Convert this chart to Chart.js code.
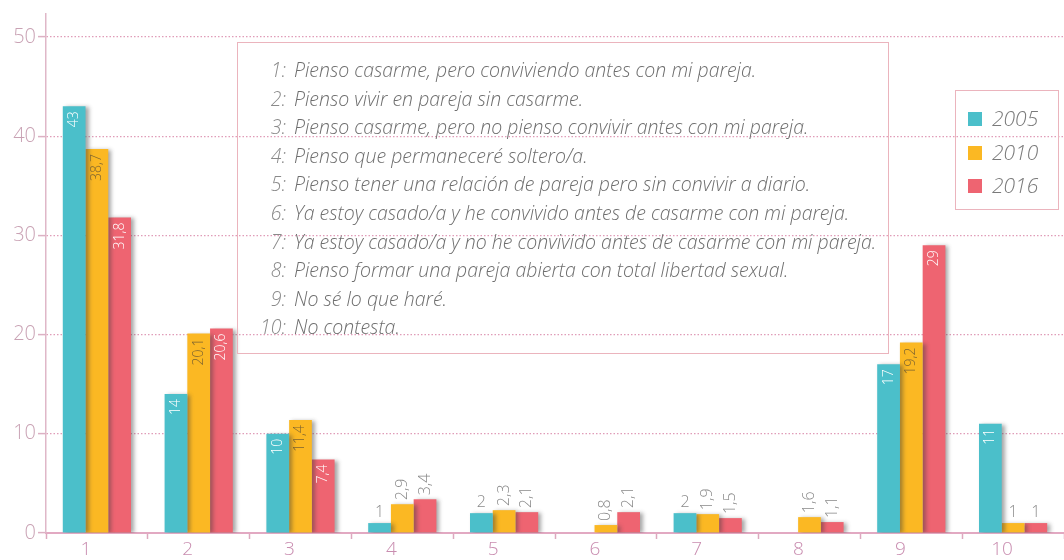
<!DOCTYPE html>
<html>
<head>
<meta charset="utf-8">
<script src="https://cdn.jsdelivr.net/npm/chart.js@4"></script>
<style>
  html, body { margin: 0; padding: 0; background: #ffffff; }
  #wrap { position: relative; width: 1064px; height: 560px; overflow: hidden; }
  #c { position: absolute; left: 0; top: 0; }
  .box { position: absolute; border: 1.5px solid #ebb4bd; box-sizing: border-box; }
  #desc { left: 237px; top: 42px; width: 652px; height: 312px; padding-top: 13px; }
  .line { position: relative; height: 28.6px; line-height: 28.6px; font-family: "Open Sans", sans-serif; font-style: italic; font-weight: 300; font-size: 19.5px; color: #6e6e6e; white-space: nowrap; }
  .num { position: absolute; right: 602px; color: #8a8a8a; }
  .txt { position: absolute; left: 56px; }
  #leg { left: 955px; top: 90px; width: 104px; height: 120px; }
  .li { position: absolute; left: 12px; height: 26px; line-height: 26px; font-family: "Open Sans", sans-serif; font-style: italic; font-weight: 300; font-size: 21px; color: #7a7a7a; }
  .sw { display: inline-block; width: 14px; height: 14px; vertical-align: 0px; margin-right: 10px; }
</style>
</head>
<body>
<div id="wrap">
  <canvas id="c" width="1064" height="560"></canvas>
  <div id="desc" class="box"></div>
  <div id="leg" class="box"></div>
</div>
<script>
const categories = ["1", "2", "3", "4", "5", "6", "7", "8", "9", "10"];
const seriesNames = ["2005", "2010", "2016"];
const values2005 = [43, 14, 10, 1, 2, null, 2, null, 17, 11];
const values2010 = [38.7, 20.1, 11.4, 2.9, 2.3, 0.8, 1.9, 1.6, 19.2, 1];
const values2016 = [31.8, 20.6, 7.4, 3.4, 2.1, 2.1, 1.5, 1.1, 29, 1];
const yTicks = [0, 10, 20, 30, 40, 50];
const descriptions = [
  "Pienso casarme, pero conviviendo antes con mi pareja.",
  "Pienso vivir en pareja sin casarme.",
  "Pienso casarme, pero no pienso convivir antes con mi pareja.",
  "Pienso que permaneceré soltero/a.",
  "Pienso tener una relación de pareja pero sin convivir a diario.",
  "Ya estoy casado/a y he convivido antes de casarme con mi pareja.",
  "Ya estoy casado/a y no he convivido antes de casarme con mi pareja.",
  "Pienso formar una pareja abierta con total libertad sexual.",
  "No sé lo que haré.",
  "No contesta."
];

const colors = ["#4bbfca", "#fbb823", "#ee6471"];
const insideLabelColors = ["#ffffff", "#7d6430", "#ffffff"];

// description box
const desc = document.getElementById('desc');
descriptions.forEach((d, i) => {
  const row = document.createElement('div');
  row.className = 'line';
  row.innerHTML = '<span class="num">' + categories[i] + ':</span><span class="txt"></span>';
  row.querySelector('.txt').textContent = d;
  desc.appendChild(row);
});
// legend box
const leg = document.getElementById('leg');
seriesNames.forEach((n, i) => {
  const it = document.createElement('div');
  it.className = 'li';
  it.style.top = (14 + i * 33.5) + 'px';
  it.innerHTML = '<span class="sw" style="background:' + colors[i] + '"></span>' + n;
  leg.appendChild(it);
});

const fmt = v => String(v).replace('.', ',');

const shadowPlugin = {
  id: 'barShadow',
  beforeDatasetsDraw(chart) {
    const ctx = chart.ctx;
    ctx.save();
    ctx.shadowColor = 'rgba(60,60,60,0.45)';
    ctx.shadowBlur = 4;
    ctx.shadowOffsetX = 3;
    ctx.shadowOffsetY = 1;
  },
  afterDatasetsDraw(chart) {
    chart.ctx.restore();
  }
};

const labelPlugin = {
  id: 'barLabels',
  afterDatasetsDraw(chart) {
    const ctx = chart.ctx;
    chart.data.datasets.forEach((ds, di) => {
      const meta = chart.getDatasetMeta(di);
      meta.data.forEach((bar, i) => {
        const v = ds.data[i];
        if (v === null || v === undefined) return;
        const txt = fmt(v);
        const x = bar.x, y = bar.y;
        ctx.save();
        ctx.shadowColor = 'transparent';
        if (v >= 5) {
          ctx.font = '300 14px "Open Sans", sans-serif';
          ctx.fillStyle = insideLabelColors[di];
          ctx.translate(x, y + 5);
          ctx.rotate(-Math.PI / 2);
          ctx.textAlign = 'right';
          ctx.textBaseline = 'middle';
          ctx.fillText(txt, 0, 0);
        } else if (Number.isInteger(v)) {
          ctx.font = '300 16px "Open Sans", sans-serif';
          ctx.fillStyle = '#8a8a8a';
          ctx.textAlign = 'center';
          ctx.textBaseline = 'bottom';
          ctx.fillText(txt, x, y - 3);
        } else {
          ctx.font = '300 16px "Open Sans", sans-serif';
          ctx.fillStyle = '#8a8a8a';
          ctx.translate(x, y - 4);
          ctx.rotate(-Math.PI / 2);
          ctx.textAlign = 'left';
          ctx.textBaseline = 'middle';
          ctx.fillText(txt, 0, 0);
        }
        ctx.restore();
      });
    });
  }
};

const allSeries = [values2005, values2010, values2016];

new Chart(document.getElementById('c'), {
  type: 'bar',
  data: {
    labels: categories,
    datasets: allSeries.map((vals, i) => ({
      label: seriesNames[i],
      data: vals,
      backgroundColor: colors[i],
      borderWidth: 0,
      barPercentage: 1.0,
      categoryPercentage: 0.67
    }))
  },
  options: {
    responsive: false,
    animation: false,
    layout: { padding: { top: 12, right: 0, left: 0, bottom: 0 } },
    plugins: { legend: { display: false }, tooltip: { enabled: false } },
    scales: {
      x: {
        grid: {
          drawOnChartArea: false,
          drawTicks: true,
          tickLength: 6,
          tickColor: '#dca9bf',
          tickWidth: 1.5,
          offset: true
        },
        border: { color: '#e2a9c2', width: 2 },
        ticks: {
          color: '#c98db0',
          font: { family: '"Open Sans", sans-serif', size: 19, weight: '300' },
          labelOffset: -11,
          padding: -1,
          maxRotation: 0
        },
        afterFit(scale) { scale.height = 27; }
      },
      y: {
        min: 0,
        max: 52.31,
        afterBuildTicks(scale) {
          scale.ticks = yTicks.map(v => ({ value: v }));
        },
        grid: {
          color: '#e09cb8',
          lineWidth: 1.2,
          tickBorderDash: [],
          tickColor: '#dcb0c3',
          tickWidth: 1.5,
          tickLength: 8
        },
        border: { color: '#dfb7c8', width: 1.5, dash: [1.5, 2] },
        ticks: {
          color: '#c9a2b4',
          font: { family: '"Open Sans", sans-serif', size: 20, weight: '300' },
          padding: 2,
          callback: v => String(v)
        },
        afterFit(scale) { scale.width = 46; }
      }
    }
  },
  plugins: [shadowPlugin, labelPlugin]
});
</script>
</body>
</html>
